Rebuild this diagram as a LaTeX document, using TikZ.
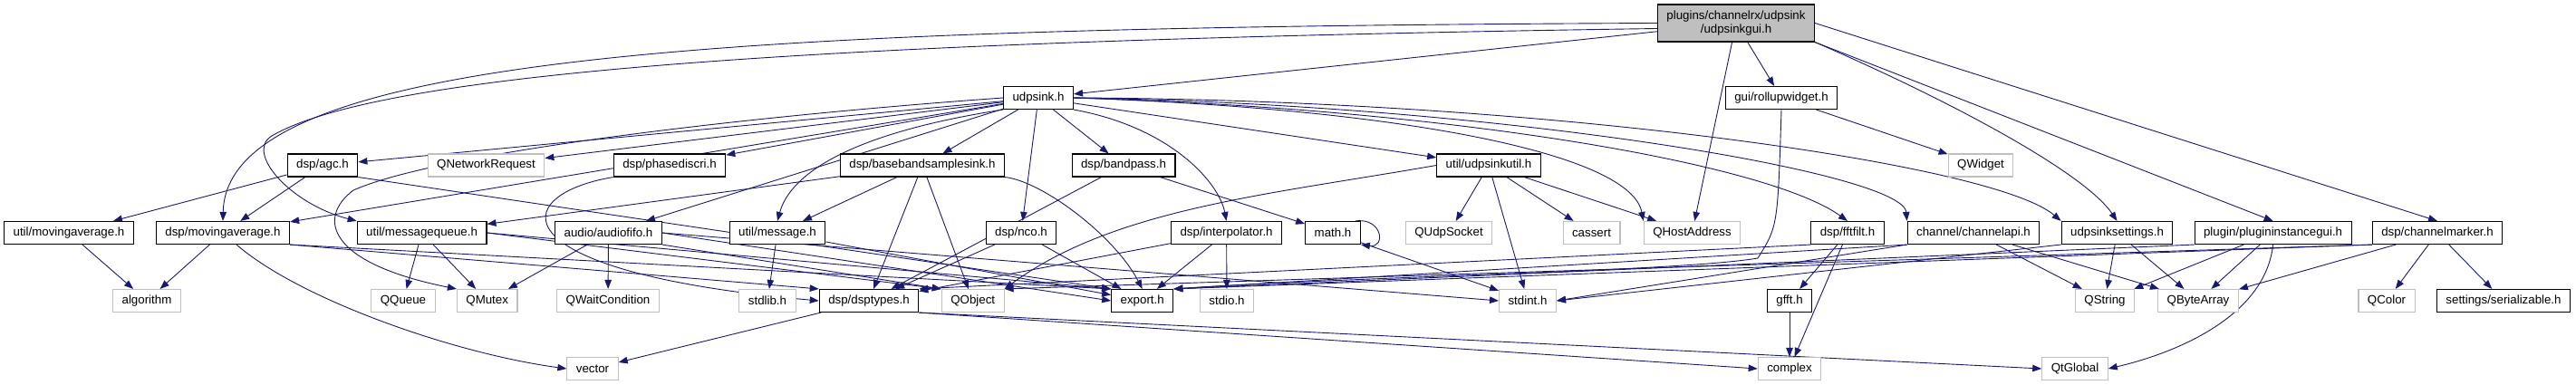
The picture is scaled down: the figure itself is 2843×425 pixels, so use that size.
\documentclass[tikz,border=0pt]{standalone}
\usepackage{fontspec}
\setmainfont{Liberation Sans}
\usetikzlibrary{arrows.meta}
\definecolor{edgeblue}{HTML}{191970}
\definecolor{extgray}{HTML}{BFBFBF}
\pgfdeclarelayer{background}
\pgfsetlayers{background,main}
\tikzset{
  hdr/.style={draw=black, line width=1.1pt, fill=white, minimum height=25pt,
    inner xsep=10pt, inner ysep=2pt, font=\fontsize{13.3}{15.5}\selectfont},
  sysinc/.style={hdr, draw=extgray},
  maingui/.style={hdr, fill=extgray, align=center, minimum height=41pt},
  dep/.style={draw=edgeblue, line width=0.9pt, -{Triangle[length=10pt,width=7.5pt]}}
}
\begin{document}
\begin{tikzpicture}[x=1pt, y=-1pt]
                \useasboundingbox (0,0) rectangle (2843,425);

                % Files
                \node[maingui] (gui) at (1916,25.5) {plugins/channelrx/udpsink\\/udpsinkgui.h};

                \node[hdr] (udpsink) at (1146,108) {udpsink.h};
                \node[hdr] (rollup) at (1966,108) {gui/rollupwidget.h};

                \node[hdr] (agc) at (356,182.5) {dsp/agc.h};
                \node[sysinc] (qnetreq) at (536.5,182.5) {QNetworkRequest};
                \node[hdr] (phasediscri) at (739,182.5) {dsp/phasediscri.h};
                \node[hdr] (bbsink) at (1018,182.5) {dsp/basebandsamplesink.h};
                \node[hdr] (bandpass) at (1240,182.5) {dsp/bandpass.h};
                \node[hdr] (udpsinkutil) at (1643,182.5) {util/udpsinkutil.h};
                \node[sysinc] (qwidget) at (2186,182.5) {QWidget};

                \node[hdr] (utilmavg) at (76,257) {util/movingaverage.h};
                \node[hdr] (dspmavg) at (246,257) {dsp/movingaverage.h};
                \node[hdr] (msgqueue) at (465.6,257) {util/messagequeue.h};
                \node[hdr] (audiofifo) at (671.5,257) {audio/audiofifo.h};
                \node[hdr] (message) at (858,257) {util/message.h};
                \node[hdr] (nco) at (1127,257) {dsp/nco.h};
                \node[hdr] (interp) at (1353.6,257) {dsp/interpolator.h};
                \node[hdr] (mathh) at (1471,257) {math.h};
                \node[sysinc] (qudpsocket) at (1599,257) {QUdpSocket};
                \node[sysinc] (cassert) at (1756.5,257) {cassert};
                \node[sysinc] (qhostaddr) at (1867.5,257) {QHostAddress};
                \node[hdr] (fftfilt) at (2039,257) {dsp/fftfilt.h};
                \node[hdr] (chanapi) at (2178,257) {channel/channelapi.h};
                \node[hdr] (settings) at (2336.5,257) {udpsinksettings.h};
                \node[hdr] (pluginst) at (2508.6,257) {plugin/plugininstancegui.h};
                \node[hdr] (chanmarker) at (2690,257) {dsp/channelmarker.h};

                \node[sysinc] (algorithm) at (162,332) {algorithm};
                \node[sysinc] (qqueue) at (445,332) {QQueue};
                \node[sysinc] (qmutex) at (537.7,332) {QMutex};
                \node[sysinc] (qwaitcond) at (671,332) {QWaitCondition};
                \node[sysinc] (stdlib) at (847,332) {stdlib.h};
                \node[hdr] (dsptypes) at (959,332) {dsp/dsptypes.h};
                \node[sysinc] (qobject) at (1073.7,332) {QObject};
                \node[hdr] (exporth) at (1260.7,332) {export.h};
                \node[sysinc] (stdio) at (1354,332) {stdio.h};
                \node[sysinc] (stdint) at (1686,332) {stdint.h};
                \node[hdr] (gfft) at (1975,332) {gfft.h};
                \node[sysinc] (qstring) at (2323,332) {QString};
                \node[sysinc] (qbytearray) at (2426,332) {QByteArray};
                \node[sysinc] (qcolor) at (2634,332) {QColor};
                \node[hdr] (serializable) at (2763,332) {settings/serializable.h};

                \node[sysinc] (vector) at (654,407) {vector};
                \node[sysinc] (complex) at (1975,407) {complex};
                \node[sysinc] (qtglobal) at (2290,407) {QtGlobal};

                \begin{pgfonlayer}{background}
                % Straight includes
                \foreach \src/\dst in {gui/udpsink, gui/rollup, gui/qhostaddr,
                    gui.south east/pluginst.north, gui.east/chanmarker.north,
                    udpsink/agc, udpsink/qnetreq, udpsink/phasediscri, udpsink/bbsink,
                    udpsink/bandpass, udpsink/nco, udpsink/udpsinkutil, udpsink/dspmavg,
                    udpsink/audiofifo, rollup/qwidget,
                    agc/utilmavg, agc/dspmavg, agc.south east/exporth.north west,
                    bbsink/msgqueue, bbsink/message, bbsink/dsptypes, bbsink/qobject,
                    bandpass/dsptypes, bandpass/mathh,
                    udpsinkutil/qudpsocket, udpsinkutil/stdint, udpsinkutil/cassert,
                    udpsinkutil/qhostaddr,
                    utilmavg/algorithm, dspmavg/algorithm,
                    dspmavg.south east/dsptypes.north west, dspmavg.south east/exporth.north west,
                    msgqueue/qqueue, msgqueue/qmutex,
                    msgqueue.east/qobject.north west, msgqueue.east/exporth.north west,
                    audiofifo/qmutex, audiofifo/qwaitcond, audiofifo.south east/qobject.north west,
                    audiofifo.east/exporth.west, audiofifo.east/stdint.west,
                    message/stdlib, message/exporth, nco/dsptypes, nco/exporth,
                    interp/dsptypes, interp/exporth, interp/stdio, mathh/stdint,
                    fftfilt/gfft, fftfilt/complex, fftfilt.south west/dsptypes.north east,
                    gfft/complex,
                    chanapi/qstring, chanapi/qbytearray, chanapi.south west/stdint.east,
                    chanapi.south west/exporth.north east,
                    settings/qstring, settings/qbytearray, settings.south west/stdint.east,
                    pluginst/qstring, pluginst/qbytearray, pluginst.south west/exporth.north east,
                    chanmarker/qbytearray, chanmarker/qcolor, chanmarker/serializable,
                    chanmarker.south west/qobject.north east, chanmarker.south west/exporth.north east,
                    dsptypes/vector, dsptypes.south east/complex.west, dsptypes.south east/qtglobal.west}
                    \draw[dep] (\src) -- (\dst);

                % Curved includes
                \draw[dep] (gui.west) .. controls (800,30) and (250,60) .. (dspmavg.north);
                \draw[dep] ([yshift=-6pt]gui.west) .. controls (900,45) and (420,80) .. (300,150)
                    .. controls (270,168) and (320,225) .. (msgqueue.north west);
                \draw[dep] (gui.south east) .. controls (2150,110) and (2300,190) .. (settings.north);
                \draw[dep] (udpsink.west) .. controls (800,130) and (480,170) .. (390,210)
                    .. controls (350,240) and (360,290) .. (qmutex.north west);
                \draw[dep] (udpsink.south west) .. controls (920,150) and (870,200) .. (message.north);
                \draw[dep] (udpsink.south east) .. controls (1290,140) and (1345,200) .. (interp.north);
                \draw[dep] (udpsink.east) .. controls (1550,120) and (1800,170) .. (qhostaddr.north west);
                \draw[dep] (udpsink.east) .. controls (1600,120) and (1950,180) .. (fftfilt.north);
                \draw[dep] (udpsink.east) .. controls (1650,115) and (2100,190) .. (chanapi.north west);
                \draw[dep] (udpsink.east) .. controls (1700,110) and (2200,180) .. (settings.north west);
                \draw[dep] (phasediscri.south west) .. controls (560,215) and (545,300) .. (dsptypes.west);
                \draw[dep] (bbsink.south east) .. controls (1150,200) and (1230,260) .. (exporth.north);
                \draw[dep] (udpsinkutil.west) .. controls (1400,215) and (1230,230) .. (qobject.north east);
                \draw[dep] (rollup.south) .. controls (1962,250) .. (1940,285)
                    .. controls (1850,300) and (1500,305) .. (exporth.north east);
                \draw[dep] (dspmavg) .. controls (330,330) and (500,390) .. (vector.west);
                \draw[dep] (pluginst.south) .. controls (2500,350) and (2400,390) .. (qtglobal.east);
                \draw[dep] ([xshift=-6pt]mathh.north east) .. controls +(30,-4) and +(28,4) .. (mathh.south east);
                \end{pgfonlayer}
            \end{tikzpicture}
\end{document}
